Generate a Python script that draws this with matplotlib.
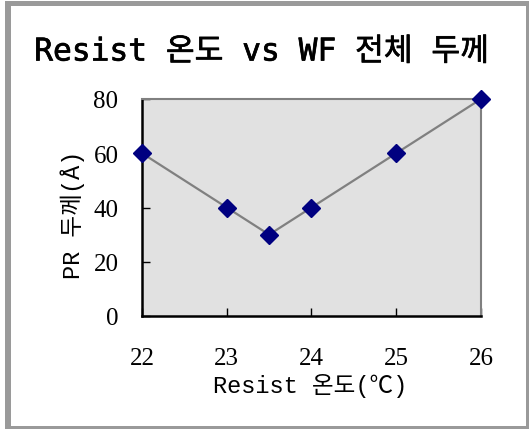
import matplotlib
matplotlib.use("Agg")
import matplotlib.pyplot as plt
from matplotlib.patches import Rectangle
import matplotlib.patheffects as pe

temps = [22, 23, 23.5, 24, 25, 26]
thickness = [60, 40, 30, 40, 60, 80]
xticks = [22, 23, 24, 25, 26]
yticks = [0, 20, 40, 60, 80]
title = "Resist 온도 vs WF 전체 두께"
xlabel = "Resist 온도(℃)"
ylabel = "PR 두께(Å)"

serif = ['Liberation Serif', 'Noto Sans CJK KR']
monoserif = ['Liberation Mono', 'Noto Sans CJK KR']
mono = ['DejaVu Sans Mono', 'Noto Sans CJK KR']

W, H = 530, 431
fig = plt.figure(figsize=(5.3, 4.31), dpi=100)
fig.patch.set_facecolor('white')

def px_rect(x0, y0, x1, y1, color):
    fig.patches.append(Rectangle((x0 / W, 1 - y1 / H), (x1 - x0) / W, (y1 - y0) / H,
                                 transform=fig.transFigure, facecolor=color,
                                 edgecolor='none'))

# outer frame: thick top/left, thin right/bottom
frame = '#9a9a9a'
px_rect(5, 2, 529, 7, frame)      # top
px_rect(5, 2, 11, 430, frame)     # left
px_rect(526, 2, 529, 430, frame)  # right
px_rect(5, 427, 529, 430, frame)  # bottom

ax = fig.add_axes([142/W, 1 - 317/H, (481-142)/W, (317-100)/H])
ax.set_facecolor('#e1e1e1')
ax.plot(temps, thickness, color='#808080', linewidth=1.6, zorder=2)
ax.plot(temps, thickness, linestyle='none', marker='D', markersize=9,
        color='#000080', clip_on=False, zorder=3)
ax.set_xlim(22, 26)
ax.set_ylim(0, 80)
ax.set_xticks(xticks)
ax.set_yticks(yticks)
ax.tick_params(direction='in', length=6, width=1, colors='black')
ax.tick_params(axis='x', pad=22)
ax.tick_params(axis='y', pad=17)
for lab in ax.get_xticklabels() + ax.get_yticklabels():
    lab.set_fontfamily(serif)
    lab.set_fontsize(18)
for side in ['left', 'bottom']:
    ax.spines[side].set_linewidth(1.8)
    ax.spines[side].set_color('black')
for side in ['top', 'right']:
    ax.spines[side].set_linewidth(1.5)
    ax.spines[side].set_color('#808080')

fig.text(262/W, 1 - 53/H, title, ha='center', va='center', fontsize=22.5,
         family=mono, path_effects=[pe.withStroke(linewidth=0.5, foreground='black')])
fig.text(310/W, 1 - 386/H, xlabel, ha='center', va='center', fontsize=17, family=monoserif)
fig.text(73/W, 1 - 215/H, ylabel, ha='center', va='center', fontsize=17, family=monoserif,
         rotation=90)

fig.savefig('out.png', dpi=100, facecolor='white')
